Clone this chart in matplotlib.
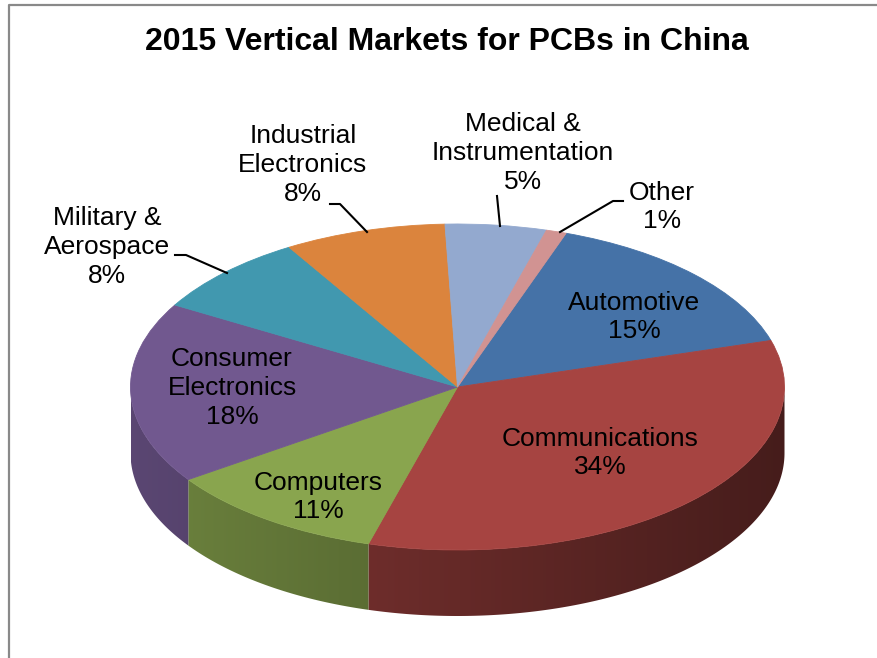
import numpy as np
import matplotlib
matplotlib.use('Agg')
import matplotlib.pyplot as plt
from matplotlib.patches import Polygon
from matplotlib.transforms import Affine2D
from matplotlib.colors import to_rgb

plt.rcParams['font.family'] = ['Liberation Sans', 'DejaVu Sans']

# 数据
markets = ['Automotive', 'Communications', 'Computers', 'Consumer\nElectronics',
           'Military &\nAerospace', 'Industrial\nElectronics',
           'Medical &\nInstrumentation', 'Other']
shares = [15, 34, 11, 18, 8, 8, 5, 1]
colors = ['#4572A7', '#A64441', '#89A54E', '#71588F',
          '#4198AF', '#DB843D', '#93A9CF', '#D19392']

# 饼图的椭圆参数(像素坐标)
cx, cy, a, b, depth = 457.5, 387, 327, 163, 66

fig = plt.figure(figsize=(8.77, 6.58), dpi=100)
ax = fig.add_axes([0, 0, 1, 1])

wedges, _ = ax.pie(shares, colors=colors, startangle=70.6, counterclock=False,
                   radius=1, wedgeprops=dict(linewidth=0.6))
trans = Affine2D().scale(a, -b).translate(cx, cy) + ax.transData
for w, c in zip(wedges, colors):
    w.set_transform(trans)
    w.set_edgecolor(c)
    w.set_zorder(3)

# 侧面(只画前半圈)
def shade(x):
    return 0.80 - 0.38 * (x - (cx - a)) / (2 * a)

for w, c in zip(wedges, colors):
    for k in (-360, 0, 360):
        t1 = max(w.theta1 + k, -180)
        t2 = min(w.theta2 + k, 0)
        if t2 <= t1:
            continue
        t = np.radians(np.linspace(t1, t2, 200))
        xs = cx + a * np.cos(t)
        ys = cy - b * np.sin(t)
        pts = np.concatenate([np.column_stack([xs, ys]),
                              np.column_stack([xs[::-1], ys[::-1] + depth])])
        poly = Polygon(pts, closed=True, transform=ax.transData)
        gx = np.linspace(xs.min(), xs.max(), 300)
        base = np.array(to_rgb(c))
        grad = np.clip(shade(gx)[:, None] * base[None, :], 0, 1)[None, :, :]
        im = ax.imshow(grad, extent=(gx[0], gx[-1], ys.max() + depth + 2, ys.min() - 2),
                       aspect='auto', interpolation='bilinear', zorder=2)
        im.set_clip_path(poly)

ax.set_aspect('auto')
ax.set_xlim(0, 877)
ax.set_ylim(658, 0)
ax.axis('off')

# 边框
ax.plot([9, 9, 877], [658, 5, 5], color='#898989', lw=1.6, zorder=5,
        solid_capstyle='butt')

ax.text(447, 42, '2015 Vertical Markets for PCBs in China', fontsize=23,
        fontweight='bold', ha='center', va='center', zorder=6)

# 标签
label_pos = [(634, 317), (600, 453), (318, 497), (232, 388),
             (107, 247), (303, 165), (523, 153), (662, 207)]
for name, s, (x, y) in zip(markets, shares, label_pos):
    ax.text(x, y, '%s\n%d%%' % (name, s), fontsize=19, ha='center',
            va='center', linespacing=1.25, zorder=6)

# 引线
leaders = [([175, 186, 227], [255, 255, 273]),
           ([330, 340, 367], [204, 204, 232]),
           ([497, 500], [196, 226]),
           ([623, 613, 560], [201, 201, 232])]
for lx, ly in leaders:
    ax.plot(lx, ly, color='black', lw=1.5, zorder=6)

fig.savefig('out.png', dpi=100)
